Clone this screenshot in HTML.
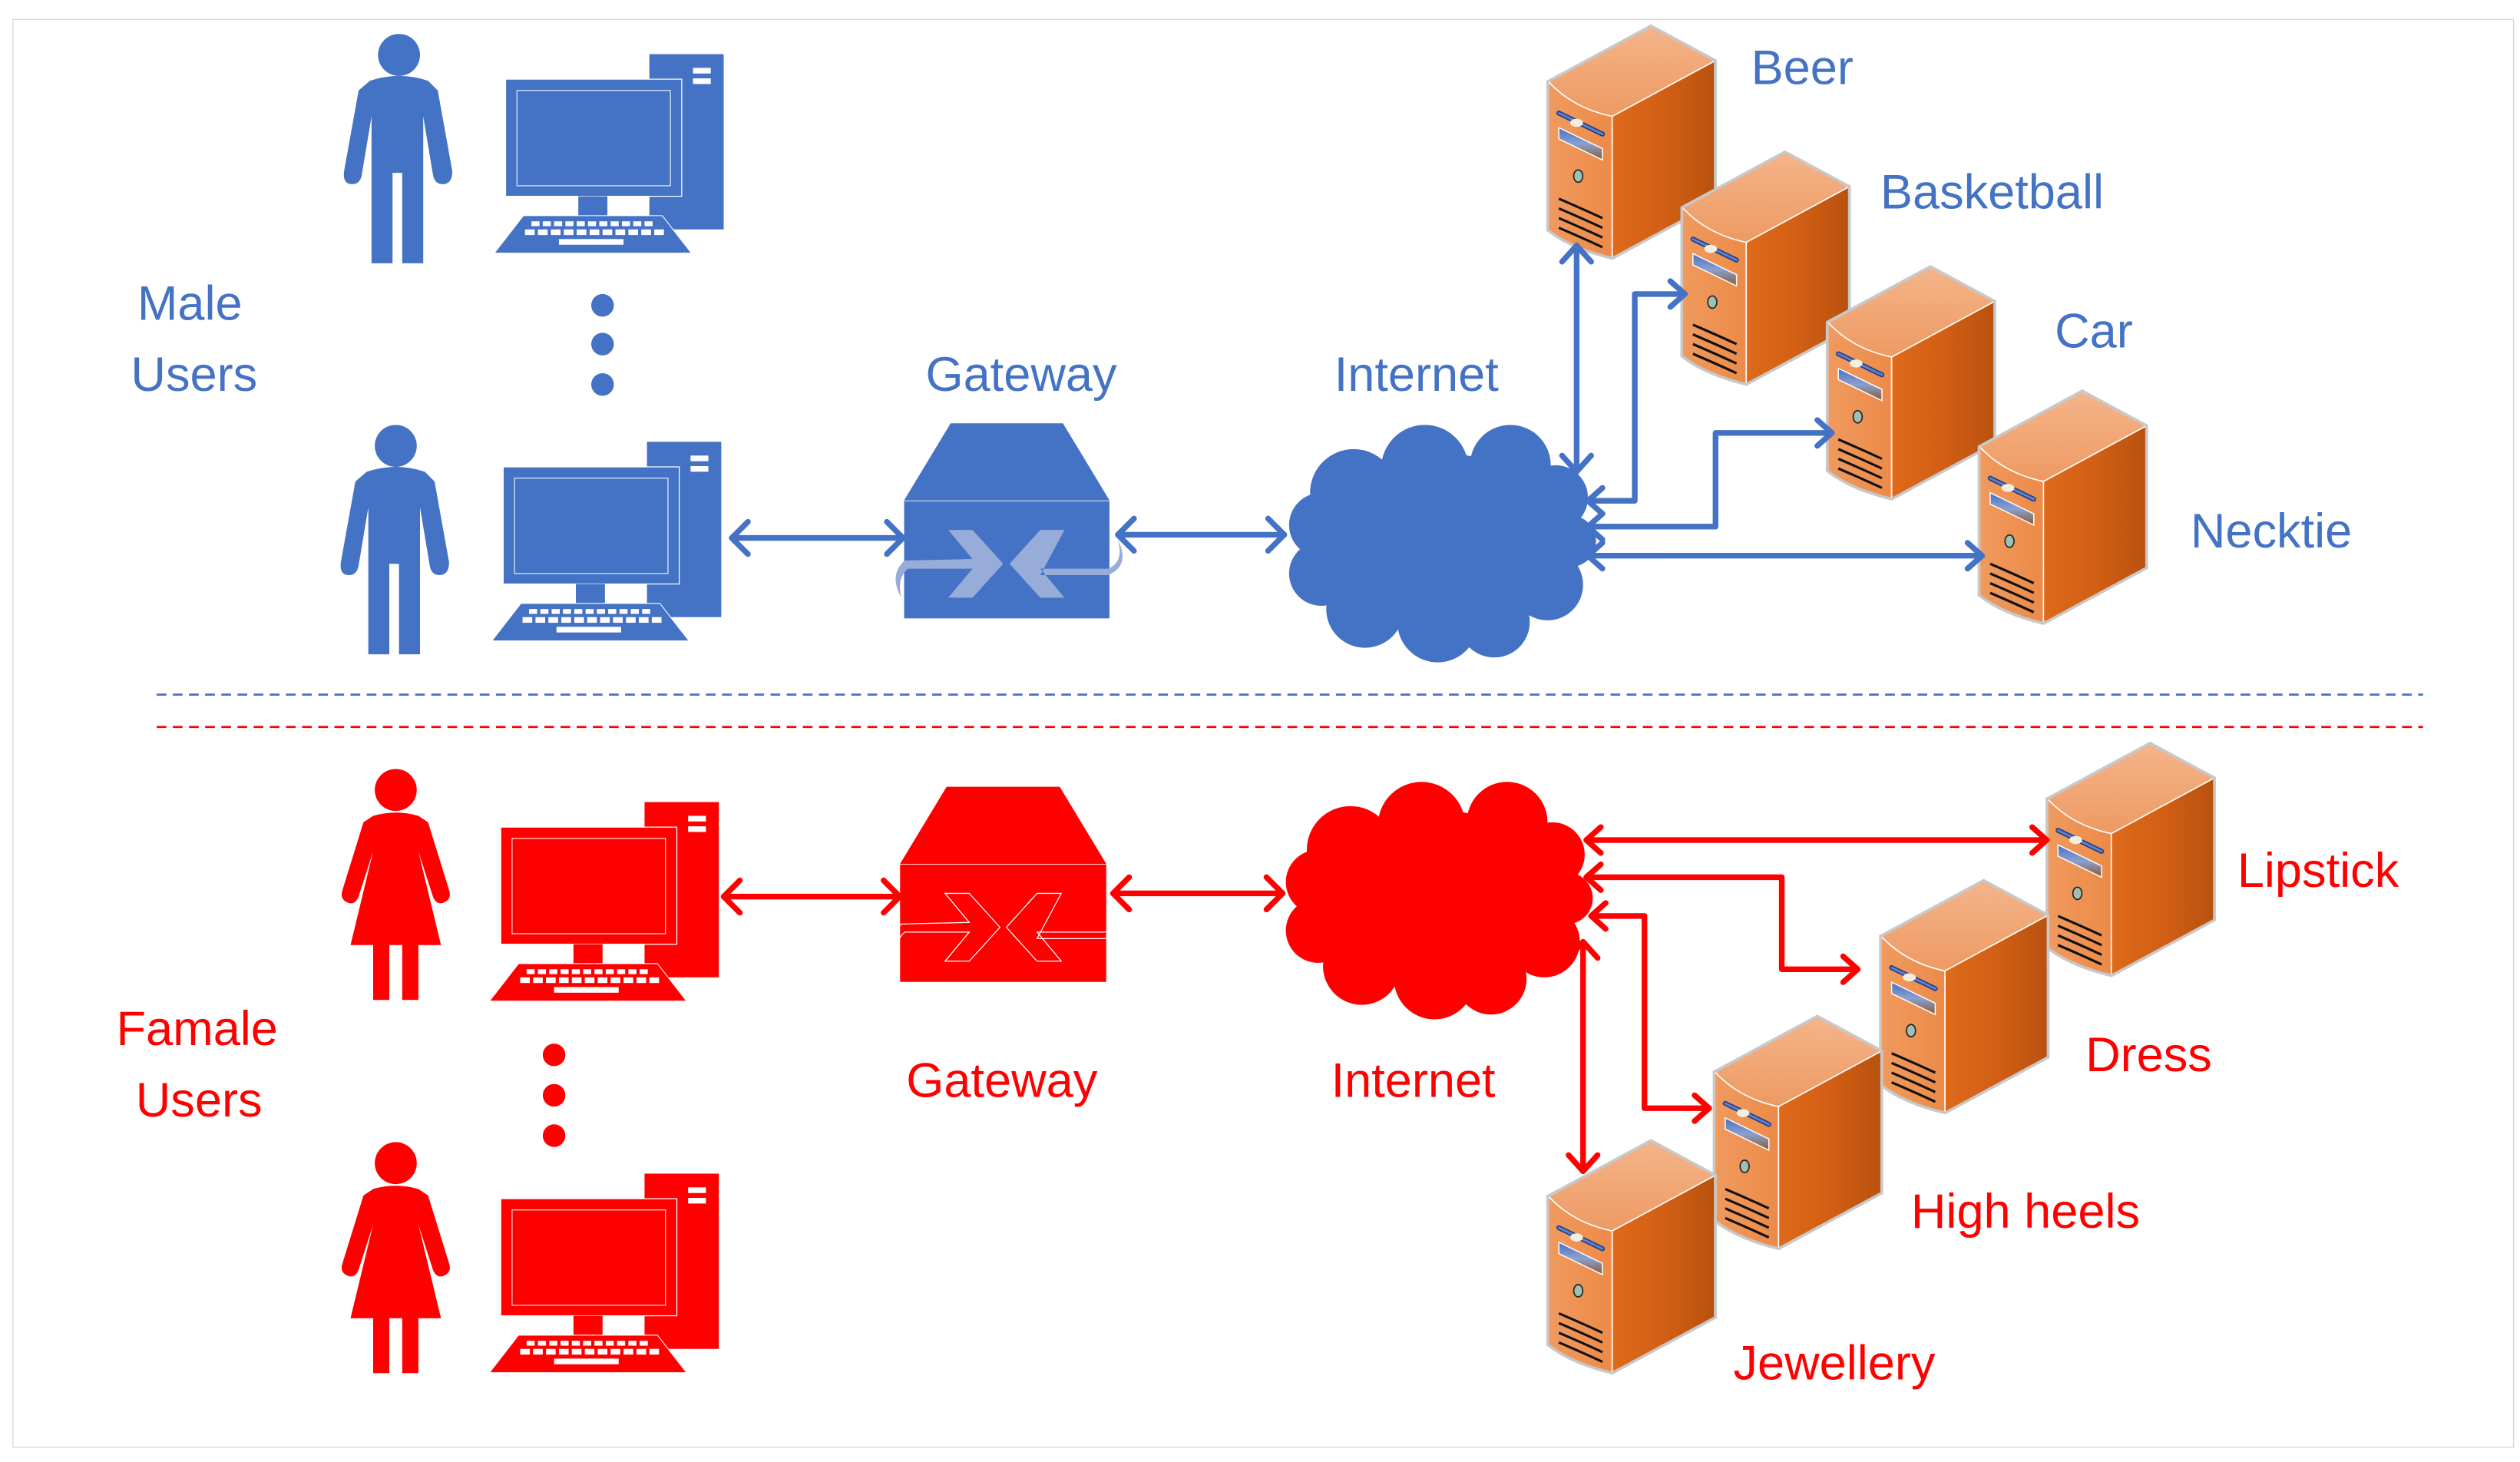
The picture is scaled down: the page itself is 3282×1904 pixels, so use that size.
<!DOCTYPE html>
<html><head><meta charset="utf-8">
<style>
html,body{margin:0;padding:0;background:#fff;}
svg{display:block;}
text{font-family:"Liberation Sans",sans-serif;font-size:30px;}
</style></head>
<body>
<svg width="3282" height="1904" viewBox="0 0 1560 905" xmlns="http://www.w3.org/2000/svg">
<defs>
  <linearGradient id="gTop" x1="0" y1="0" x2="0" y2="1">
    <stop offset="0" stop-color="#f4b48a"/><stop offset="1" stop-color="#ee9a62"/>
  </linearGradient>
  <linearGradient id="gFront" x1="0" y1="0" x2="1" y2="0">
    <stop offset="0" stop-color="#f09a5e"/><stop offset="1" stop-color="#ec8a48"/>
  </linearGradient>
  <linearGradient id="gSide" x1="0" y1="0" x2="1" y2="0">
    <stop offset="0" stop-color="#de6a1a"/><stop offset="0.5" stop-color="#d25f14"/><stop offset="1" stop-color="#b9520f"/>
  </linearGradient>
  <linearGradient id="gSlot" x1="0" y1="0" x2="0" y2="1">
    <stop offset="0" stop-color="#4a6fc0"/><stop offset="0.5" stop-color="#8aa0d0"/><stop offset="1" stop-color="#8a5a30"/>
  </linearGradient>
  <g id="server">
    <path d="M0,34 L63,0 L102,21 L102,108 L39,142 Q14,136 0,125 Z" fill="none" stroke="#c8c8c8" stroke-width="3.5"/>
    <path d="M0,34 L63,0 L102,21 L39,55 Q15,50 0,34 Z" fill="url(#gTop)"/>
    <path d="M0,34 Q15,50 39,55 L39,142 Q14,136 0,125 Z" fill="url(#gFront)"/>
    <path d="M39,55 L102,21 L102,108 L39,142 Z" fill="url(#gSide)"/>
    <path d="M0,34 Q15,50 39,55 L102,21" fill="none" stroke="#fff" stroke-width="0.8"/>
    <line x1="39" y1="55" x2="39" y2="142" stroke="#fff" stroke-width="0.8"/>
    <path d="M6,53 L33,66" stroke="#1e3a80" stroke-width="3" stroke-linecap="round"/>
    <path d="M6,53 L33,66" stroke="#5a80d0" stroke-width="1.5" stroke-linecap="round"/>
    <ellipse cx="17" cy="59" rx="4" ry="2.5" fill="#f2efe0"/>
    <path d="M6,62 L33,75 L33,82 L6,69 Z" fill="url(#gSlot)" stroke="#fff" stroke-width="0.7"/>
    <ellipse cx="18" cy="92" rx="2.8" ry="3.8" fill="#9fc0b0" stroke="#222" stroke-width="0.8"/>
    <path d="M6,106 Q20,112 33,118 M6,112 Q20,118 33,124 M6,118 Q20,124 33,130 M6,124 Q20,130 33,136" stroke="#111" stroke-width="1.5" fill="none"/>
  </g>
  <g id="computer">
    <rect x="402" y="33.5" width="46" height="108.5"/>
    <rect x="429" y="42" width="11" height="3.5" fill="#fff"/>
    <rect x="429" y="48.5" width="11" height="3.5" fill="#fff"/>
    <rect x="313" y="49" width="109" height="72.5" stroke="#fff" stroke-width="0.6"/>
    <rect x="320" y="56" width="95" height="59" fill="none" stroke="#fff" stroke-width="0.5"/>
    <rect x="358" y="121.5" width="18" height="12"/>
    <path d="M324,133.5 L410,133.5 L428,156.7 L306,156.7 Z" stroke="#fff" stroke-width="0.5"/>
    <g fill="#fff">
      <rect x="329" y="137" width="5" height="3"/><rect x="336" y="137" width="5" height="3"/><rect x="343" y="137" width="5" height="3"/><rect x="350" y="137" width="5" height="3"/><rect x="357" y="137" width="5" height="3"/><rect x="364" y="137" width="5" height="3"/><rect x="371" y="137" width="5" height="3"/><rect x="378" y="137" width="5" height="3"/><rect x="385" y="137" width="5" height="3"/><rect x="392" y="137" width="5" height="3"/><rect x="399" y="137" width="5" height="3"/>
      <rect x="325" y="142" width="6" height="3.5"/><rect x="333" y="142" width="6" height="3.5"/><rect x="341" y="142" width="6" height="3.5"/><rect x="349" y="142" width="6" height="3.5"/><rect x="357" y="142" width="6" height="3.5"/><rect x="365" y="142" width="6" height="3.5"/><rect x="373" y="142" width="6" height="3.5"/><rect x="381" y="142" width="6" height="3.5"/><rect x="389" y="142" width="6" height="3.5"/><rect x="397" y="142" width="6" height="3.5"/><rect x="405" y="142" width="6" height="3.5"/>
      <rect x="346" y="148" width="40" height="3.5"/>
    </g>
  </g>
  <path id="male" d="M-18,16 Q0,10 18,16 L24,22 L33,72 Q33,80 27,80 Q22,80 21,74 L15,38 L15,129 L2,129 L2,73 L-4,73 L-4,129 L-17,129 L-17,38 L-23,74 Q-24,80 -29,80 Q-35,80 -34,72 L-25,22 Z"/>
  <path id="female" d="M-14,16 Q0,12 14,16 L20,20 L33,62 Q35,68 29,70 Q25,71 23,66 L14,38 L28,96 L14,96 L14,130 L4,130 L4,96 L-4,96 L-4,130 L-14,130 L-14,96 L-28,96 L-14,38 L-23,66 Q-25,71 -29,70 Q-35,68 -33,62 L-20,20 Z"/>
  <g id="cloud">
    <circle cx="838" cy="305" r="27"/><circle cx="882" cy="290" r="27"/><circle cx="935" cy="288" r="25"/>
    <circle cx="963" cy="308" r="20"/><circle cx="972" cy="335" r="16"/><circle cx="958" cy="362" r="22"/>
    <circle cx="925" cy="385" r="22"/><circle cx="890" cy="385" r="25"/><circle cx="845" cy="377" r="24"/>
    <circle cx="818" cy="355" r="20"/><circle cx="818" cy="325" r="20"/><ellipse cx="890" cy="335" rx="70" ry="55"/>
  </g>
</defs>

<rect x="8" y="12" width="1548" height="884" fill="none" stroke="#d4d4d4" stroke-width="0.6"/>

<!-- Male section -->
<g fill="#4472c4">
  <circle cx="247" cy="34" r="13"/><use href="#male" x="247" y="34"/>
  <circle cx="245" cy="276" r="13"/><use href="#male" x="245" y="276"/>
  <use href="#computer"/>
  <use href="#computer" x="-1.5" y="240"/>
  <circle cx="373" cy="189" r="7"/><circle cx="373" cy="213" r="7"/><circle cx="373" cy="238" r="7"/>
  <path d="M588.5,262 L658,262 L687,310 L559.5,310 Z"/>
  <rect x="559.5" y="310" width="127.5" height="73" stroke="#fff" stroke-width="0.4"/>
  <use href="#cloud"/>
</g>
<g fill="#97acd9">
  <path d="M587,328 L602,328 L621,349 L602,370 L587,370 L602,352 L562,352 Q555,358 558,370 Q550,356 560,347 L602,346 Z"/>
  <path d="M659,328 L644,328 L625,349 L644,370 L659,370 L644,352 L686,352 Q696,348 692,334 Q700,350 686,356 L644,356 Z"/>
</g>
<g fill="#4472c4">
  <text x="85" y="198">Male</text>
  <text x="81" y="242">Users</text>
  <text x="573" y="242">Gateway</text>
  <text x="826" y="242">Internet</text>
  <text x="1084" y="52">Beer</text>
  <text x="1164" y="129">Basketball</text>
  <text x="1272" y="215">Car</text>
  <text x="1356" y="339">Necktie</text>
</g>
<use href="#server" x="959" y="17"/>
<use href="#server" x="1042" y="95"/>
<use href="#server" x="1132" y="166"/>
<use href="#server" x="1226" y="243"/>

<g stroke="#4472c4" stroke-width="3.5" fill="none" stroke-linecap="round" stroke-linejoin="round">
  <line x1="453" y1="333" x2="559" y2="333"/>
  <path d="M463,323 L453,333 L463,343 M549,323 L559,333 L549,343"/>
  <line x1="692" y1="331" x2="795" y2="331"/>
  <path d="M702,321 L692,331 L702,341 M785,321 L795,331 L785,341"/>
  <line x1="976" y1="152" x2="976" y2="292"/>
  <path d="M967,162 L976,152 L985,162 M967,282 L976,292 L985,282"/>
  <path d="M983,310 L1012,310 L1012,182 L1043,182"/>
  <path d="M992,302 L983,310 L992,318 M1034,174 L1043,182 L1034,190"/>
  <path d="M983,326 L1062,326 L1062,268 L1134,268"/>
  <path d="M992,318 L983,326 L992,334 M1125,260 L1134,268 L1125,276"/>
  <line x1="983" y1="344" x2="1227" y2="344"/>
  <path d="M992,336 L983,344 L992,352 M1218,336 L1227,344 L1218,352"/>
</g>

<line x1="97" y1="430" x2="1500" y2="430" stroke="#4472c4" stroke-width="1.3" stroke-dasharray="6,4"/>
<line x1="97" y1="450" x2="1500" y2="450" stroke="#ff0000" stroke-width="1.3" stroke-dasharray="6,4"/>

<!-- Female section -->
<g fill="#ff0000">
  <circle cx="245" cy="489" r="13"/><use href="#female" x="245" y="489"/>
  <circle cx="245" cy="720" r="13"/><use href="#female" x="245" y="720"/>
  <use href="#computer" x="-3" y="463"/>
  <use href="#computer" x="-3" y="693"/>
  <circle cx="343" cy="653" r="7"/><circle cx="343" cy="678" r="7"/><circle cx="343" cy="703" r="7"/>
  <path d="M586,487 L656,487 L685,535 L557,535 Z"/>
  <rect x="557" y="535" width="128" height="73" stroke="#fff" stroke-width="0.4"/>
  <use href="#cloud" x="-2" y="221"/>
</g>
<g fill="none" stroke="#fff" stroke-width="0.6">
  <path d="M585,553 L600,553 L619,574 L600,595 L585,595 L600,577 L560,577 Q553,583 556,595 Q548,581 558,572 L600,571 Z"/>
  <path d="M657,553 L642,553 L623,574 L642,595 L657,595 L642,577 L684,577 Q694,573 690,559 Q698,575 684,581 L642,581 Z"/>
</g>
<g fill="#ff0000">
  <text x="72" y="647">Famale</text>
  <text x="84" y="691">Users</text>
  <text x="561" y="679">Gateway</text>
  <text x="824" y="679">Internet</text>
  <text x="1385" y="549">Lipstick</text>
  <text x="1291" y="663">Dress</text>
  <text x="1183" y="760">High heels</text>
  <text x="1073" y="854">Jewellery</text>
</g>
<use href="#server" x="1268" y="461"/>
<use href="#server" x="1165" y="546"/>
<use href="#server" x="1062" y="630"/>
<use href="#server" x="959" y="707"/>

<g stroke="#ff0000" stroke-width="3.5" fill="none" stroke-linecap="round" stroke-linejoin="round">
  <line x1="448" y1="555" x2="557" y2="555"/>
  <path d="M458,545 L448,555 L458,565 M547,545 L557,555 L547,565"/>
  <line x1="689" y1="553" x2="794" y2="553"/>
  <path d="M699,543 L689,553 L699,563 M784,543 L794,553 L784,563"/>
  <line x1="982" y1="520" x2="1267" y2="520"/>
  <path d="M991,512 L982,520 L991,528 M1258,512 L1267,520 L1258,528"/>
  <path d="M982,543 L1103,543 L1103,600 L1150,600"/>
  <path d="M991,535 L982,543 L991,551 M1141,592 L1150,600 L1141,608"/>
  <path d="M985,567 L1018,567 L1018,686 L1058,686"/>
  <path d="M994,559 L985,567 L994,575 M1049,678 L1058,686 L1049,694"/>
  <line x1="980" y1="583" x2="980" y2="725"/>
  <path d="M971,593 L980,583 L989,593 M971,715 L980,725 L989,715"/>
</g>
</svg>
</body></html>
